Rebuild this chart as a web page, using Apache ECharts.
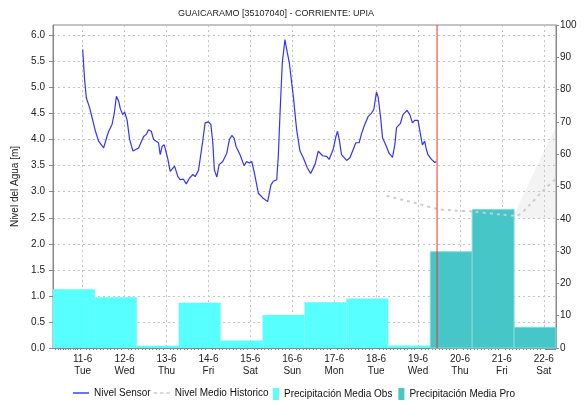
<!DOCTYPE html>
<html>
<head>
<meta charset="utf-8">
<script src="https://cdn.jsdelivr.net/npm/echarts@6/dist/echarts.min.js"></script>
<style>
  html, body { margin: 0; padding: 0; background: #ffffff; }
  #chart { width: 585px; height: 405px; }
</style>
</head>
<body>
<div id="chart"></div>
<script>
// Station level sensor: hours counted from 11-6-2024 00:00 and water level in metres
const sensorHours = [0,1.1,2.1,4.0,5.4,7.3,9.1,12,13.9,14.9,
  16.8,18.1,19.3,20.6,21.5,22.9,24,25.4,26.9,28.8,
  32,34.9,36.4,37.7,39.3,40.6,41.5,43.4,44.4,45.5,
  46.7,47.8,48.8,50.1,52.6,54.5,55.8,57.7,59.3,61.1,
  63.1,64.4,66.3,67.3,68.6,70.1,72,73.4,74.5,75.4,
  76.8,78.1,80.2,82.5,84,85.4,86.7,87.8,90.1,92.4,
  93.9,95.4,96.8,98.3,100.6,103.1,105.9,107.8,109.1,111.1,
  112,113,114.3,115.8,116.8,118.3,120.6,122.5,124.4,126.3,
  128.6,130.5,133,134.9,137.4,139.7,141.1,143.4,145,145.9,
  146.9,148.2,151.1,153,154.9,156.4,158.3,159.7,161.5,163.4,
  165.4,166.7,168.2,169.1,170.5,171.7,173.5,175.4,177.4,178.7,
  179.7,181.9,183.4,185.7,187.3,188.8,190.1,192,193.4,194.5,
  195.8,196.8,197.7,199.7,201.6,202.5];
const sensorLevel = [5.73,5.15,4.80,4.61,4.42,4.16,3.97,3.84,4.06,4.16,
  4.29,4.51,4.83,4.74,4.60,4.48,4.53,4.38,4.00,3.78,
  3.84,4.06,4.10,4.19,4.16,4.00,4.03,3.94,3.71,3.87,
  3.90,3.90,3.62,3.39,3.49,3.29,3.23,3.24,3.15,3.26,
  3.33,3.29,3.41,3.41,3.94,4.32,4.34,4.29,3.94,3.42,
  3.28,3.52,3.58,3.74,4.00,4.08,4.03,3.87,3.71,3.50,
  3.58,3.55,3.58,3.36,2.97,2.88,2.81,3.13,3.20,3.23,
  3.68,4.51,5.48,5.92,5.73,5.48,4.83,4.19,3.78,3.65,
  3.46,3.35,3.52,3.78,3.69,3.68,3.62,3.81,4.06,4.16,
  4.00,3.71,3.60,3.65,3.81,3.94,3.94,4.12,4.29,4.44,
  4.51,4.58,4.91,4.83,4.45,4.03,3.90,3.74,3.66,3.90,
  4.23,4.31,4.48,4.56,4.48,4.32,4.37,4.37,4.10,3.90,
  3.97,3.81,3.71,3.62,3.56,3.58];

// Historical mean level
const histHours = [174, 192, 203, 212, 223, 240, 248, 256, 263, 271];
const histLevel = [2.92, 2.77, 2.67, 2.64, 2.62, 2.56, 2.54, 2.75, 3.00, 3.25];

// Forecast level envelope
const bandHours = [247, 252, 271];
const bandLow = [2.56, 2.48, 2.48];
const bandHigh = [2.56, 2.92, 4.26];

// Daily mean precipitation [mm], each period runs 07:00 to 07:00 starting on the given June day
const obsStartDay = [10, 11, 12, 13, 14, 15, 16, 17, 18];
const precipObs = [18.2, 15.7, 0.7, 14.0, 2.3, 10.2, 14.2, 15.3, 0.8];
const proStartDay = [19, 20, 21];
const precipPro = [29.8, 42.9, 6.4];

// Current time marker (hours from 11-6 00:00)
const nowHour = 202.9;

const weekdays = ['Sun', 'Mon', 'Tue', 'Wed', 'Thu', 'Fri', 'Sat'];
const base = new Date(2024, 5, 11, 0, 0).getTime();
const HOUR = 3600 * 1000;
const t = h => base + h * HOUR;
const dayStart = d => new Date(2024, 5, d, 7, 0).getTime();

const FONT = 'Liberation Sans, Arial, sans-serif';
const OBS_COLOR = '#58ffff';
const PRO_COLOR = '#46c6c6';
const LEVEL_MAX = 6.2;

function barItems(days, values) {
  return days.map((d, i) => [dayStart(d), dayStart(d + 1), values[i]]);
}

function renderBar(color, stroke) {
  return function (params, api) {
    const p0 = api.coord([api.value(0), api.value(2)]);
    const p1 = api.coord([api.value(1), 0]);
    return {
      type: 'rect',
      shape: { x: p0[0], y: p0[1], width: p1[0] - p0[0], height: p1[1] - p0[1] },
      style: { fill: color, stroke: stroke, lineWidth: stroke ? 1 : 0 }
    };
  };
}

const legendText = { fontFamily: FONT, fontSize: 10, color: '#111' };

const chart = echarts.init(document.getElementById('chart'), null, { renderer: 'canvas' });

chart.setOption({
  animation: false,
  backgroundColor: '#ffffff',
  title: {
    text: 'GUAICARAMO [35107040] - CORRIENTE: UPIA',
    left: 173,
    top: 4,
    textStyle: { fontFamily: FONT, fontSize: 9, fontWeight: 'normal', color: '#222' }
  },
  grid: {
    left: 53, right: 29, top: 25, bottom: 57,
    outerBoundsMode: 'none',
    containLabel: false,
    show: true, borderColor: '#888', borderWidth: 1, backgroundColor: 'transparent'
  },
  legend: [
    {
      // level series
      left: 73,
      top: 388,
      padding: 0,
      itemWidth: 16,
      itemHeight: 12,
      itemGap: 3,
      textStyle: legendText,
      data: [
        { name: 'Nivel Sensor', icon: 'path://M0,5h16v1.4h-16z' },
        { name: 'Nivel Medio Historico', icon: 'path://M0,5h3.5v1.4h-3.5zM6.25,5h3.5v1.4h-3.5zM12.5,5h3.5v1.4h-3.5z' }
      ]
    },
    {
      // precipitation series
      left: 273,
      top: 388,
      padding: 0,
      itemWidth: 6,
      itemHeight: 12,
      itemGap: 6,
      textStyle: legendText,
      data: [
        { name: 'Precipitación Media Obs', icon: 'rect' },
        { name: 'Precipitación Media Pro', icon: 'rect' }
      ]
    }
  ],
  xAxis: {
    type: 'time',
    min: dayStart(10),
    max: dayStart(22),
    minInterval: 24 * HOUR,
    maxInterval: 24 * HOUR,
    axisLine: { lineStyle: { color: '#888' } },
    axisTick: { show: false },
    minorTick: { show: true, splitNumber: 12, length: 2, lineStyle: { color: '#888' } },
    splitLine: { show: true, lineStyle: { color: '#c4c4c4', type: [2, 3] } },
    axisLabel: {
      showMinLabel: false,
      showMaxLabel: false,
      margin: 5,
      fontFamily: FONT,
      fontSize: 10,
      lineHeight: 12,
      color: '#222',
      formatter: function (value) {
        const d = new Date(value);
        return d.getDate() + '-' + (d.getMonth() + 1) + '\n' + weekdays[d.getDay()];
      }
    }
  },
  yAxis: [
    {
      type: 'value',
      min: 0,
      max: LEVEL_MAX,
      interval: 0.5,
      name: 'Nivel del Agua [m]',
      nameLocation: 'middle',
      nameGap: 30,
      nameTextStyle: { fontFamily: FONT, fontSize: 10, color: '#222' },
      axisLine: { show: true, lineStyle: { color: '#888' } },
      axisTick: { show: true, length: 4, lineStyle: { color: '#888' } },
      splitLine: { show: true, lineStyle: { color: '#c4c4c4', type: [2, 3] } },
      axisLabel: {
        showMaxLabel: false,
        margin: 8,
        fontFamily: FONT, fontSize: 10, color: '#222',
        formatter: v => v.toFixed(1)
      }
    },
    {
      type: 'value',
      min: 0,
      max: 100,
      interval: 10,
      position: 'right',
      name: 'Precipitación [mm]',
      nameLocation: 'middle',
      nameGap: 28,
      nameTextStyle: { fontFamily: FONT, fontSize: 10, color: '#222' },
      axisLine: { show: true, lineStyle: { color: '#888' } },
      axisTick: { show: true, length: 3, lineStyle: { color: '#888' } },
      splitLine: { show: false },
      axisLabel: { margin: 4, fontFamily: FONT, fontSize: 10, color: '#222' }
    }
  ],
  series: [
    {
      name: 'Precipitación Media Obs',
      type: 'custom',
      xAxisIndex: 0,
      yAxisIndex: 1,
      itemStyle: { color: OBS_COLOR },
      encode: { x: [0, 1], y: 2 },
      renderItem: renderBar(OBS_COLOR, null),
      data: barItems(obsStartDay, precipObs),
      z: 1
    },
    {
      name: 'Precipitación Media Pro',
      type: 'custom',
      xAxisIndex: 0,
      yAxisIndex: 1,
      itemStyle: { color: PRO_COLOR },
      encode: { x: [0, 1], y: 2 },
      renderItem: renderBar(PRO_COLOR, '#7fdcdc'),
      data: barItems(proStartDay, precipPro),
      z: 1
    },
    {
      name: 'bandLow',
      type: 'line',
      stack: 'band',
      symbol: 'none',
      lineStyle: { opacity: 0 },
      data: bandHours.map((h, i) => [t(h), bandLow[i]]),
      z: 2,
      silent: true
    },
    {
      name: 'bandRange',
      type: 'line',
      stack: 'band',
      symbol: 'none',
      lineStyle: { opacity: 0 },
      areaStyle: { color: 'rgba(205,205,205,0.35)' },
      data: bandHours.map((h, i) => [t(h), +(bandHigh[i] - bandLow[i]).toFixed(2)]),
      z: 2,
      silent: true
    },
    {
      name: 'Nivel Medio Historico',
      type: 'line',
      symbol: 'none',
      smooth: 0.3,
      itemStyle: { color: '#cccccc' },
      lineStyle: { color: '#cccccc', width: 2, type: [3, 4] },
      data: histHours.map((h, i) => [t(h), histLevel[i]]),
      z: 4
    },
    {
      name: 'Nivel Sensor',
      type: 'line',
      symbol: 'none',
      itemStyle: { color: '#3333ff' },
      lineStyle: { color: '#3333ff', width: 1.2 },
      data: sensorHours.map((h, i) => [t(h), sensorLevel[i]]),
      z: 5
    },
    {
      // vertical marker at the current time
      name: 'Ahora',
      type: 'line',
      symbol: 'none',
      silent: true,
      itemStyle: { color: '#ff2a2a' },
      lineStyle: { color: '#ff2a2a', width: 1 },
      data: [[t(nowHour), 0], [t(nowHour), LEVEL_MAX]],
      z: 6
    }
  ]
});
</script>
</body>
</html>
